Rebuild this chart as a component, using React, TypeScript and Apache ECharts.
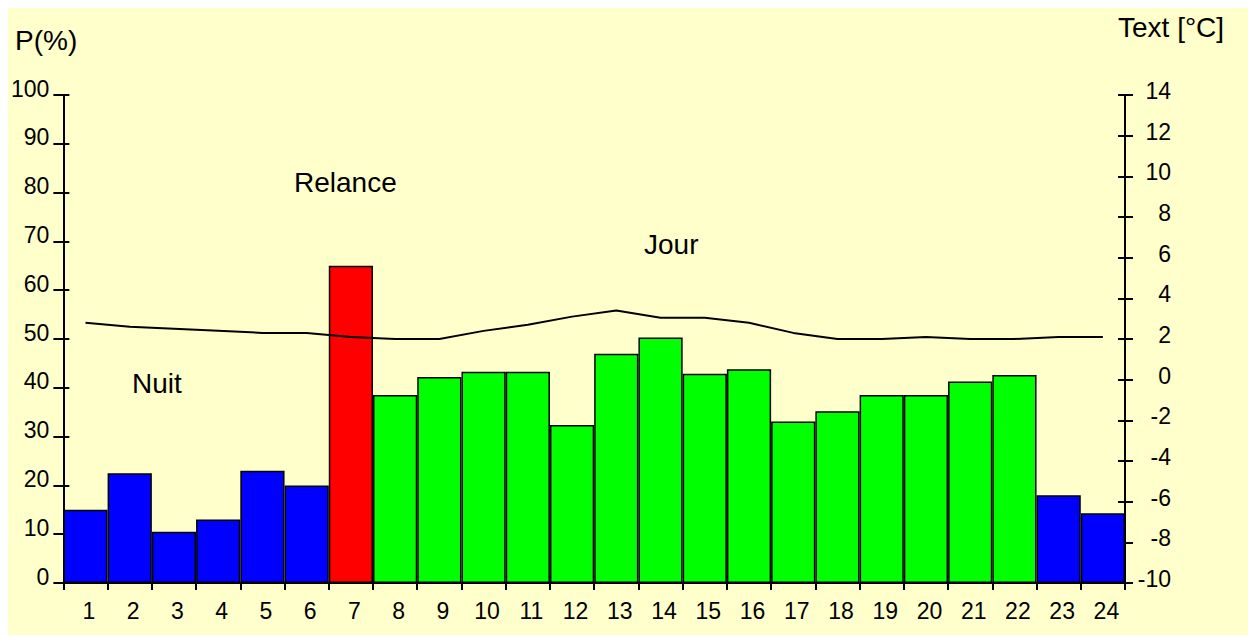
import React, { useEffect, useRef } from "react";
import * as echarts from "echarts";

const hours = ["1","2","3","4","5","6","7","8","9","10","11","12","13","14","15","16","17","18","19","20","21","22","23","24"];
const phases = ["Nuit","Nuit","Nuit","Nuit","Nuit","Nuit","Relance","Jour","Jour","Jour","Jour","Jour","Jour","Jour","Jour","Jour","Jour","Jour","Jour","Jour","Jour","Jour","Nuit","Nuit"];
const powerPct = [15, 22.5, 10.5, 13, 23, 20, 65, 38.5, 42.2, 43.3, 43.3, 32.4, 47, 50.3, 42.9, 43.8, 33.1, 35.2, 38.5, 38.5, 41.3, 42.6, 18, 14.3];
const tempExt = [2.8, 2.6, 2.5, 2.4, 2.3, 2.3, 2.1, 2.0, 2.0, 2.4, 2.7, 3.1, 3.4, 3.05, 3.05, 2.8, 2.3, 2.0, 2.0, 2.1, 2.0, 2.0, 2.1, 2.1];
const phaseColors: Record<string, string> = { Nuit: "#0000ff", Relance: "#ff0000", Jour: "#00ff00" };
const leftAxis = { min: 0, max: 100, interval: 10 };
const rightAxis = { min: -10, max: 14, interval: 2 };

const FONT = "'Liberation Sans', Arial, sans-serif";

export default function App() {
  const ref = useRef<HTMLDivElement>(null);
  useEffect(() => {
    if (!ref.current) return;
    const chart = echarts.init(ref.current, null, { renderer: "svg" });
    const axisLine = { show: true, lineStyle: { color: "#000", width: 2 } };
    const tickStyle = { color: "#000", width: 2 };
    chart.setOption({
      animation: false,
      backgroundColor: "#ffffcc",
      textStyle: { fontFamily: FONT, color: "#000" },
      grid: { left: 51, right: 123, top: 87, bottom: 52 },
      xAxis: {
        type: "category",
        data: hours,
        boundaryGap: true,
        axisLine,
        axisTick: { show: true, length: 7, lineStyle: tickStyle, alignWithLabel: false },
        axisLabel: { color: "#000", fontSize: 23, fontFamily: FONT, margin: 16, padding: [0, 0, 0, 7] },
        splitLine: { show: false },
      },
      yAxis: [
        {
          type: "value", position: "left", ...leftAxis,
          axisLine, axisTick: { show: true, length: 10, lineStyle: tickStyle },
          axisLabel: { color: "#000", fontSize: 23, fontFamily: FONT, margin: 14, verticalAlign: "bottom", lineHeight: 13 },
          splitLine: { show: false },
        },
        {
          type: "value", position: "right", ...rightAxis,
          axisLine, axisTick: { show: true, length: 8, lineStyle: tickStyle },
          axisLabel: { color: "#000", fontSize: 23, fontFamily: FONT, margin: 46, align: "right", verticalAlign: "bottom", lineHeight: 8 },
          splitLine: { show: false },
        },
        {
          type: "value", position: "left", ...leftAxis,
          axisLine: { show: false }, axisTick: { show: true, inside: true, length: 6, lineStyle: tickStyle },
          axisLabel: { show: false }, splitLine: { show: false },
        },
        {
          type: "value", position: "right", ...rightAxis,
          axisLine: { show: false }, axisTick: { show: true, inside: true, length: 7, lineStyle: tickStyle },
          axisLabel: { show: false }, splitLine: { show: false },
        },
      ],
      series: [
        {
          type: "bar",
          yAxisIndex: 0,
          barCategoryGap: "0%",
          data: powerPct.map((v, i) => ({
            value: v,
            itemStyle: { color: phaseColors[phases[i]], borderColor: "#000", borderWidth: 1.5 },
          })),
          z: 2,
        },
        {
          type: "line",
          yAxisIndex: 1,
          data: tempExt,
          symbol: "none",
          lineStyle: { color: "#000", width: 2 },
          z: 3,
        },
      ],
      graphic: [
        { type: "text", left: 7, top: 18, style: { text: "P(%)", font: `28px ${FONT}`, fill: "#000" } },
        { type: "text", left: 1110, top: 5, style: { text: "Text [°C]", font: `28px ${FONT}`, fill: "#000" } },
        { type: "text", left: 286, top: 160, style: { text: "Relance", font: `28px ${FONT}`, fill: "#000" } },
        { type: "text", left: 636, top: 222, style: { text: "Jour", font: `28px ${FONT}`, fill: "#000" } },
        { type: "text", left: 124, top: 361, style: { text: "Nuit", font: `28px ${FONT}`, fill: "#000" } },
      ],
    });
    return () => chart.dispose();
  }, []);
  return (
    <div
      ref={ref}
      style={{ position: "absolute", left: 8, top: 8, width: 1240, height: 627 }}
    />
  );
}
